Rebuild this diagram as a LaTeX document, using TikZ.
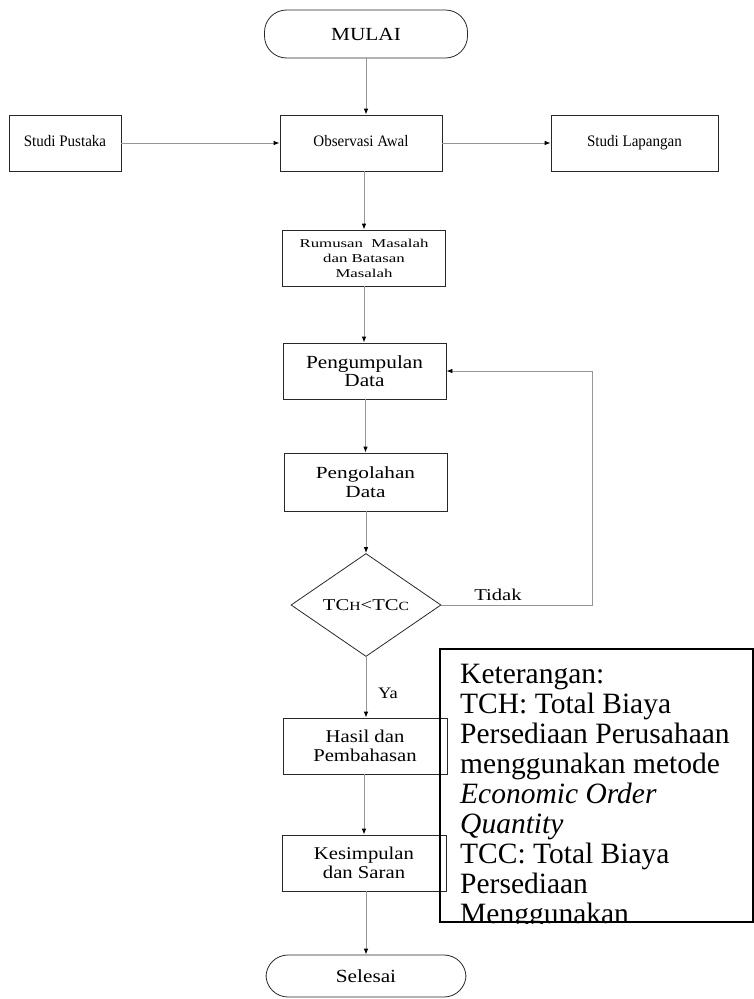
\documentclass[tikz,border=0pt]{standalone}
\usepackage{fontspec}
\setmainfont{Liberation Serif}
\newfontfamily\fsA[FakeStretch=1.15]{Liberation Serif}
\newfontfamily\fsB[FakeStretch=1.25]{Liberation Serif}
\newfontfamily\fsC[FakeStretch=1.4]{Liberation Serif}
\newfontfamily\fsN[FakeStretch=0.94]{Liberation Serif}
\usetikzlibrary{shapes.geometric,arrows.meta}
\definecolor{conn}{RGB}{150,150,150}
\definecolor{edge}{RGB}{40,40,40}
\tikzset{
  box/.style={draw=edge, line width=0.8pt, rectangle, minimum height=56pt, align=center, inner sep=0pt},
  term/.style={draw=edge, line width=0.8pt, rectangle, rounded corners=22pt, align=center, inner sep=0pt},
  decision/.style={draw=edge, line width=0.8pt, diamond, minimum width=150pt, minimum height=103pt, inner sep=0pt},
  arr/.style={draw=conn, line width=0.8pt, -{Latex[length=6pt,width=4.5pt,color=black]}},
  lbl/.style={inner sep=0pt},
  legline/.style={anchor=base west, inner sep=0pt, font=\fontsize{29.5}{30}\selectfont},
  fA/.style={font=\fsA\fontsize{18.5}{18}\selectfont},
  fB/.style={font=\fsB\fontsize{17}{19}\selectfont},
  fC/.style={font=\fsC\fontsize{12}{15}\selectfont},
  fH/.style={font=\fsA\fontsize{18}{19}\selectfont},
  fP/.style={font=\fsN\fontsize{16}{18}\selectfont, text height=11pt, text depth=3.5pt}
}
\begin{document}
\begin{tikzpicture}[x=1pt,y=-1pt]
\path[use as bounding box] (0,0) rectangle (754,999);

\node[term, fA, minimum width=203pt, minimum height=48pt] (mulai) at (366,34) {MULAI};
\node[box, fP, minimum width=112pt] (pustaka) at (65,143) {Studi Pustaka};
\node[box, fP, minimum width=162pt] (obs) at (361,143) {Observasi Awal};
\node[box, fP, minimum width=167pt] (lap) at (634.5,143) {Studi Lapangan};
\node[box, fC, minimum width=163pt] (rumusan) at (364,258) {Rumusan\ \ Masalah\\dan Batasan\\Masalah};
\node[box, fA, minimum width=163pt] (kumpul) at (364.5,371) {Pengumpulan\\Data};
\node[box, fB, minimum width=163pt, minimum height=58pt] (olah) at (365.5,482) {Pengolahan\\Data};
\node[decision] (dia) at (366,605) {};
\node[lbl, font=\fsB\fontsize{16.5}{16}\selectfont] (diatext) at (dia.center) {TC{\fontsize{12.5}{12}\selectfont H}<TC{\fontsize{12.5}{12}\selectfont C}};
\node[box, fH, minimum width=164pt] (hasil) at (365,746) {Hasil dan\\Pembahasan};
\node[box, fH, minimum width=164pt] (simpul) at (364,863) {Kesimpulan\\dan Saran};
\node[term, fA, minimum width=200pt, minimum height=42pt] (selesai) at (366,976) {Selesai};

\coordinate (loopx) at (592,0);

\draw[arr] (mulai.south) -- (mulai.south |- obs.north);
\draw[arr] (pustaka.east) -- (obs.west);
\draw[arr] (obs.east) -- (lap.west);
\draw[arr] (rumusan.north |- obs.south) -- (rumusan.north);
\draw[arr] (rumusan.south) -- (rumusan.south |- kumpul.north);
\draw[arr] (olah.north |- kumpul.south) -- (olah.north);
\draw[arr] (dia.north |- olah.south) -- (dia.north);
\draw[arr] (dia.south) -- (dia.south |- hasil.north);
\draw[arr] (simpul.north |- hasil.south) -- (simpul.north);
\draw[arr] (selesai.north |- simpul.south) -- (selesai.north);
\draw[arr] (dia.east) -- (dia.east -| loopx) -- (loopx |- kumpul.east) -- (kumpul.east);

\node[lbl, font=\fsB\fontsize{16.5}{16}\selectfont] (tidak) at (498,595) {Tidak};
\node[lbl, font=\fsA\fontsize{16}{16}\selectfont] (ya) at (388,693) {Ya};

\node[draw=black, line width=2pt, minimum width=313pt, minimum height=273pt, anchor=north west, inner sep=0pt] (legend) at (439,648) {};
\begin{scope}
  \clip (legend.north west) rectangle (legend.south east);
  \node[legline] (l1) at (460,683) {Keterangan:};
  \node[legline] (l2) at (460,713) {TCH: Total Biaya};
  \node[legline] (l3) at (460,743) {Persediaan Perusahaan};
  \node[legline] (l4) at (460,773) {menggunakan metode};
  \node[legline] (l5) at (460,803) {\textit{Economic Order}};
  \node[legline] (l6) at (460,833) {\textit{Quantity}};
  \node[legline] (l7) at (460,863) {TCC: Total Biaya};
  \node[legline] (l8) at (460,893) {Persediaan};
  \node[legline] (l9) at (460,923) {Menggunakan};
\end{scope}
\end{tikzpicture}
\end{document}
